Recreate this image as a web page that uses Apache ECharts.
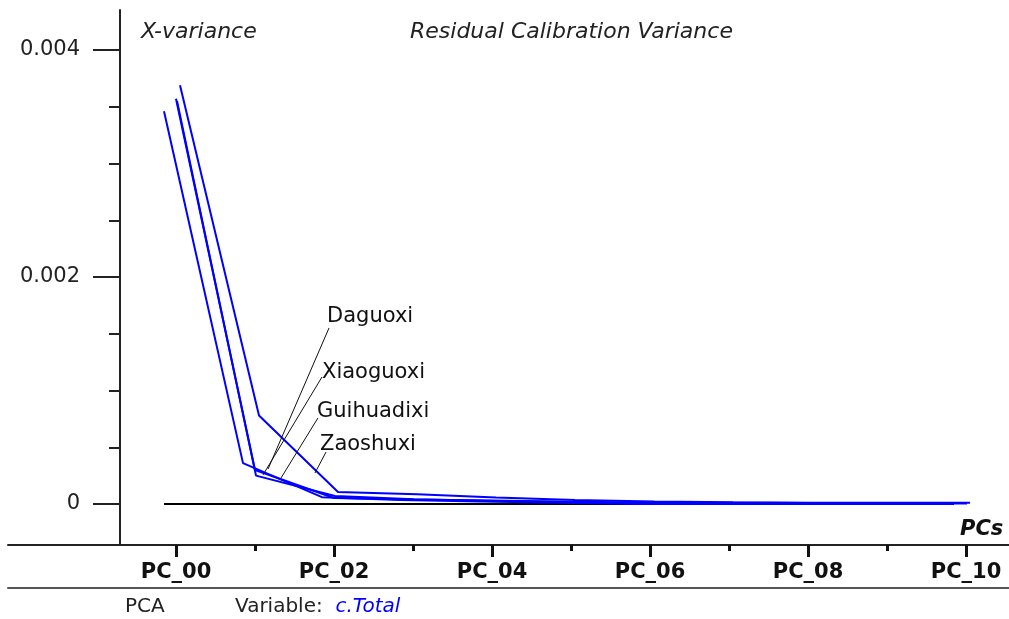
<!DOCTYPE html>
<html>
<head>
<meta charset="utf-8">
<script src="https://cdn.jsdelivr.net/npm/echarts@6/dist/echarts.min.js"></script>
<style>
  * { margin: 0; padding: 0; }
  body { background: #fff; }
  #chart { width: 1009px; height: 619px; }
</style>
</head>
<body>
<div id="chart"></div>
<script>
// x categories (principal components)
var pcLabels = ['PC_00', 'PC_01', 'PC_02', 'PC_03', 'PC_04', 'PC_05', 'PC_06', 'PC_07', 'PC_08', 'PC_09', 'PC_10'];

// residual calibration variance per sample
var daguoxi    = [0.00346, 0.00036, 0.000060, 0.000035, 0.000022, 0.000012, 0, 0, 0, 0, 0];
var xiaoguoxi  = [0.00357, 0.00030, 0.000053, 0.000040, 0.000030, 0.000020, 0.000012, 0.000010, 0.000009, 0.000008, 0.000008];
var guihuadixi = [0.00355, 0.00025, 0.000070, 0.000042, 0.000026, 0.000018, 0.000006, 0.000005, 0.000004, 0.000004, 0.000004];
var zaoshuxi   = [0.00369, 0.00078, 0.000106, 0.000085, 0.000058, 0.000035, 0.000022, 0.000016, 0.000012, 0.000010, 0.000010];
var baseline   = [0, 0, 0, 0, 0, 0, 0, 0, 0, 0, 0];

// callouts: [name, from x, from y, to x, to y] in data units
var callouts = [
  ['Daguoxi',    1.165, 0.000308, 1.937, 0.001551],
  ['Xiaoguoxi',  1.101, 0.000256, 1.848, 0.001119],
  ['Guihuadixi', 1.329, 0.000229, 1.797, 0.000758],
  ['Zaoshuxi',   1.759, 0.000273, 1.899, 0.000458]
];
var calloutOffsets = [[-2, -11], [0, -4], [-1, -6], [-6, -7]];

var FONT = 'DejaVu Sans';
var BLUE = '#0000ff';

var chart = echarts.init(document.getElementById('chart'));

var hidden = { type: 'value', show: false };

// frame rules, tick axes, then one data grid per depth shift
var grids = [
  { left: 8, right: 0, top: 10, bottom: 74 },     // 0 bottom axis rule
  { left: 120, right: 0, top: 10, bottom: 74 },   // 1 left axis rule
  { left: 8, right: 0, top: 560, bottom: 31 },    // 2 footer rule
  { left: 120, right: 43, top: 50, bottom: 115 }, // 3 y ticks + labels
  { left: 176, right: 43, top: 10, bottom: 74 }   // 4 x ticks + labels
];
var xAxes = [
  { gridIndex: 0, type: 'value', min: 0, max: 1, axisLine: { show: true, lineStyle: { color: '#222', width: 2 } }, axisTick: { show: false }, axisLabel: { show: false }, splitLine: { show: false } },
  Object.assign({ gridIndex: 1 }, hidden),
  { gridIndex: 2, type: 'value', min: 0, max: 1, axisLine: { show: true, lineStyle: { color: '#555', width: 2 } }, axisTick: { show: false }, axisLabel: { show: false }, splitLine: { show: false } },
  Object.assign({ gridIndex: 3 }, hidden),
  {
    gridIndex: 4, type: 'value', min: 0, max: 10, interval: 2,
    name: 'PCs', nameLocation: 'end', nameGap: -6,
    nameTextStyle: { fontFamily: FONT, fontSize: 21, fontWeight: 'bold', fontStyle: 'italic', color: '#111', verticalAlign: 'bottom', padding: [0, 0, 5, 0] },
    axisLine: { show: false },
    axisTick: { show: true, length: 12, lineStyle: { color: '#111', width: 3 } },
    minorTick: { show: true, splitNumber: 2, length: 6, lineStyle: { color: '#111', width: 3 } },
    axisLabel: { margin: 17, fontFamily: FONT, fontSize: 21, fontWeight: 'bold', color: '#111',
      formatter: function (v) { return pcLabels[v]; } },
    splitLine: { show: false }
  }
];
var yAxes = [
  Object.assign({ gridIndex: 0 }, hidden),
  { gridIndex: 1, type: 'value', min: 0, max: 1, axisLine: { show: true, lineStyle: { color: '#222', width: 2 } }, axisTick: { show: false }, axisLabel: { show: false }, splitLine: { show: false } },
  Object.assign({ gridIndex: 2 }, hidden),
  {
    gridIndex: 3, type: 'value', min: 0, max: 0.004, interval: 0.002,
    axisLine: { show: false },
    axisTick: { show: true, length: 27, lineStyle: { color: '#222', width: 2 } },
    minorTick: { show: true, splitNumber: 4, length: 11, lineStyle: { color: '#222', width: 2 } },
    axisLabel: { margin: 40, fontFamily: FONT, fontSize: 21, color: '#222',
      formatter: function (v) { return v === 0 ? '0' : v.toFixed(3); } },
    splitLine: { show: false }
  },
  Object.assign({ gridIndex: 4 }, hidden)
];

// depth shift (px) per data grid, mimics the pseudo-3D offset of the lines
var shifts = [0, -12, 1, 4];
shifts.forEach(function (s, k) {
  grids.push({ left: 176 + s, right: 43 - s, top: 50, bottom: 115 });
  xAxes.push({ gridIndex: 5 + k, type: 'value', min: 0, max: 10, show: false });
  yAxes.push({ gridIndex: 5 + k, type: 'value', min: 0, max: 0.004, show: false });
});

function gridOf(shift) { return 5 + shifts.indexOf(shift); }
function pairs(arr) { return arr.map(function (v, i) { return [i, v]; }); }

function lineSeries(name, values, shift, color, width, z) {
  var g = gridOf(shift);
  return {
    name: name, type: 'line', xAxisIndex: g, yAxisIndex: g,
    data: pairs(values), showSymbol: false, symbol: 'none', clip: false,
    lineStyle: { color: color, width: width }, z: z, silent: true
  };
}

var series = [
  lineSeries('baseline', baseline, -12, '#000', 2.2, 2),
  lineSeries('Daguoxi', daguoxi, -12, BLUE, 2, 3),
  lineSeries('Xiaoguoxi', xiaoguoxi, 0, BLUE, 2, 3),
  lineSeries('Guihuadixi', guihuadixi, 1, BLUE, 2, 3),
  lineSeries('Zaoshuxi', zaoshuxi, 4, BLUE, 2, 3)
];

// leader lines + names, placed through the main grid's scales
series[2].markLine = {
  silent: true, symbol: 'none', animation: false,
  lineStyle: { color: '#111', width: 1, type: 'solid' },
  label: { show: false },
  data: callouts.map(function (c) {
    return [{ coord: [c[1], c[2]] }, { coord: [c[3], c[4]] }];
  })
};
series[2].markPoint = {
  silent: true, symbol: 'circle', symbolSize: 0, animation: false,
  data: callouts.map(function (c, i) {
    return {
      name: c[0], coord: [c[3], c[4]],
      label: { show: true, position: [0, 0], align: 'left', verticalAlign: 'middle',
        offset: calloutOffsets[i], formatter: c[0],
        fontFamily: FONT, fontSize: 21, color: '#111' }
    };
  })
};

chart.setOption({
  animation: false,
  backgroundColor: '#fff',
  title: [
    { text: 'X-variance', left: 136, top: 16, textStyle: { fontFamily: FONT, fontSize: 22, fontStyle: 'italic', fontWeight: 'normal', color: '#222' } },
    { text: 'Residual Calibration Variance', left: 405, top: 16, textStyle: { fontFamily: FONT, fontSize: 22, fontStyle: 'italic', fontWeight: 'normal', color: '#222' } },
    { text: 'PCA', left: 120, top: 592, textStyle: { fontFamily: FONT, fontSize: 20, fontWeight: 'normal', color: '#222' } },
    { text: 'Variable:  {b|c.Total}', left: 230, top: 592,
      textStyle: { fontFamily: FONT, fontSize: 20, fontWeight: 'normal', color: '#222',
        rich: { b: { fontFamily: FONT, fontSize: 20, fontStyle: 'italic', color: BLUE } } } }
  ],
  grid: grids,
  xAxis: xAxes,
  yAxis: yAxes,
  series: series
});
</script>
</body>
</html>
